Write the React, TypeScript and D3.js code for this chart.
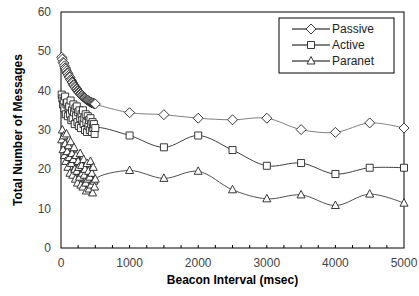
import React, { useEffect, useRef } from 'react';
import * as d3 from 'd3';

// beacon intervals (msec)
const denseX = [10, 20, 30, 40, 50, 60, 70, 80, 90, 100, 110, 120, 130, 140, 150, 160, 170, 180, 190, 200, 210, 220, 230, 240, 250, 260, 270, 280, 290, 300, 310, 320, 330, 340, 350, 360, 370, 380, 390, 400, 410, 420, 430, 440, 450, 460, 470, 480, 490, 500];
const sparseX = [1000, 1500, 2000, 2500, 3000, 3500, 4000, 4500, 5000];

const passiveDense = [48.5, 48.0, 47.2, 47.0, 46.3, 45.8, 45.5, 45.0, 44.5, 44.4, 43.9, 43.5, 43.4, 42.8, 42.6, 42.2, 42.0, 41.5, 41.4, 41.0, 40.9, 40.5, 40.4, 40.0, 39.9, 39.6, 39.5, 39.2, 39.1, 38.8, 38.8, 38.5, 38.4, 38.2, 38.1, 37.9, 37.8, 37.6, 37.6, 37.4, 37.3, 37.2, 37.1, 37.0, 36.9, 36.9, 36.8, 36.7, 36.7, 36.6];
const passiveSparse = [34.4, 33.9, 33.0, 32.6, 33.0, 30.1, 29.4, 31.8, 30.5];

const activeDense = [39.0, 38.0, 36.5, 37.5, 35.5, 38.5, 34.0, 36.5, 37.0, 33.5, 35.5, 36.0, 34.0, 37.5, 32.5, 35.0, 33.0, 36.5, 34.5, 31.5, 35.5, 33.5, 36.0, 32.0, 34.5, 31.0, 35.0, 33.0, 30.5, 34.0, 32.5, 35.0, 31.5, 33.0, 30.0, 34.0, 32.0, 29.5, 33.5, 31.0, 32.5, 30.0, 33.0, 31.5, 29.5, 32.0, 30.5, 31.5, 29.0, 30.5];
const activeSparse = [28.6, 25.6, 28.6, 24.9, 20.9, 21.6, 18.8, 20.4, 20.4];

const paranetDense = [27.5, 30.0, 25.0, 28.5, 23.5, 26.5, 22.0, 29.0, 24.5, 20.5, 26.0, 23.0, 19.0, 27.0, 21.5, 24.0, 18.5, 22.5, 25.5, 20.0, 17.5, 23.5, 19.5, 16.5, 22.0, 20.5, 18.0, 24.0, 16.0, 21.0, 19.0, 15.5, 22.5, 18.5, 20.0, 16.5, 14.5, 21.5, 17.5, 19.5, 15.0, 18.0, 22.0, 16.0, 19.0, 14.0, 20.5, 17.0, 15.5, 17.5];
const paranetSparse = [19.7, 17.7, 19.5, 14.8, 12.5, 13.5, 10.8, 13.7, 11.4];

const seriesNames = ['Passive', 'Active', 'Paranet'];
const yTicks = [0, 10, 20, 30, 40, 50, 60];
const xTicks = [0, 1000, 2000, 3000, 4000, 5000];

const App = () => {
  const node = useRef<SVGSVGElement>(null);

  useEffect(() => {
    const svg = d3.select(node.current);
    svg.selectAll('*').remove();

    const margin = { left: 61, right: 15, top: 12, bottom: 48 };
    const W = 419, H = 296;
    const width = W - margin.left - margin.right;
    const height = H - margin.top - margin.bottom;
    const font = 'Liberation Sans, Arial, sans-serif';

    const x = d3.scaleLinear().domain([0, 5000]).range([0, width]);
    const y = d3.scaleLinear().domain([0, 60]).range([height, 0]);

    const g = svg.append('g').attr('transform', `translate(${margin.left},${margin.top})`);

    // plot frame
    g.append('rect')
      .attr('width', width)
      .attr('height', height)
      .attr('fill', 'white')
      .attr('stroke', '#000')
      .attr('stroke-width', 1);

    // minor ticks on x axis (inside)
    const minor = d3.range(250, 5000, 250);
    g.append('g')
      .selectAll('line')
      .data(minor)
      .enter()
      .append('line')
      .attr('x1', d => x(d))
      .attr('x2', d => x(d))
      .attr('y1', height)
      .attr('y2', height - 3)
      .attr('stroke', '#000');

    // tick labels
    g.append('g')
      .selectAll('text')
      .data(yTicks)
      .enter()
      .append('text')
      .attr('x', -10)
      .attr('y', d => y(d) + 4)
      .attr('text-anchor', 'end')
      .attr('font-family', font)
      .attr('font-size', 12)
      .attr('fill', '#444')
      .text(d => d);

    g.append('g')
      .selectAll('text')
      .data(xTicks)
      .enter()
      .append('text')
      .attr('x', d => x(d))
      .attr('y', height + 19)
      .attr('text-anchor', 'middle')
      .attr('font-family', font)
      .attr('font-size', 12)
      .attr('fill', '#444')
      .text(d => d);

    // axis titles
    g.append('text')
      .attr('x', width / 2)
      .attr('y', height + 36)
      .attr('text-anchor', 'middle')
      .attr('font-family', font)
      .attr('font-size', 12)
      .attr('font-weight', 'bold')
      .text('Beacon Interval (msec)');
    g.append('text')
      .attr('transform', `translate(-39,${height / 2}) rotate(-90)`)
      .attr('text-anchor', 'middle')
      .attr('font-family', font)
      .attr('font-size', 12)
      .attr('font-weight', 'bold')
      .text('Total Number of Messages');

    const allX = denseX.concat(sparseX);
    const series = [
      { name: seriesNames[0], values: passiveDense.concat(passiveSparse), color: '#808080', shape: 'diamond' },
      { name: seriesNames[1], values: activeDense.concat(activeSparse), color: '#404040', shape: 'square' },
      { name: seriesNames[2], values: paranetDense.concat(paranetSparse), color: '#505050', shape: 'triangle' },
    ];

    const symbolPath = (shape: string) => {
      if (shape === 'diamond') return 'M0,-5L5,0L0,5L-5,0Z';
      if (shape === 'square') return 'M-3.5,-3.5H3.5V3.5H-3.5Z';
      return 'M0,-4.5L4,3L-4,3Z';
    };

    const line = d3
      .line<number>()
      .x((d, i) => x(allX[i]))
      .y(d => y(d))
      .curve(d3.curveCatmullRom.alpha(0.5));

    series.forEach(s => {
      g.append('path')
        .attr('d', line(s.values))
        .attr('fill', 'none')
        .attr('stroke', s.color)
        .attr('stroke-width', 1);
    });

    series.forEach(s => {
      g.append('g')
        .selectAll('path')
        .data(s.values)
        .enter()
        .append('path')
        .attr('d', symbolPath(s.shape))
        .attr('transform', (d, i) => `translate(${x(allX[i])},${y(d)})`)
        .attr('fill', 'white')
        .attr('stroke', '#222')
        .attr('stroke-width', 0.9);
    });

    // legend
    const lg = svg.append('g').attr('transform', 'translate(279,18)');
    lg.append('rect')
      .attr('width', 115)
      .attr('height', 55)
      .attr('fill', 'white')
      .attr('stroke', '#000');
    series.forEach((s, i) => {
      const ly = 11 + i * 16;
      lg.append('line')
        .attr('x1', 13)
        .attr('x2', 51)
        .attr('y1', ly)
        .attr('y2', ly)
        .attr('stroke', '#000');
      lg.append('path')
        .attr('d', symbolPath(s.shape))
        .attr('transform', `translate(32,${ly})`)
        .attr('fill', 'white')
        .attr('stroke', '#222')
        .attr('stroke-width', 0.9);
      lg.append('text')
        .attr('x', 53)
        .attr('y', ly + 4)
        .attr('font-family', font)
        .attr('font-size', 12)
        .attr('fill', '#222')
        .text(s.name);
    });
  }, []);

  return (
    <svg
      ref={node}
      width={419}
      height={296}
      style={{ position: 'absolute', left: 0, top: 0, background: 'white' }}
    />
  );
};

export default App;
